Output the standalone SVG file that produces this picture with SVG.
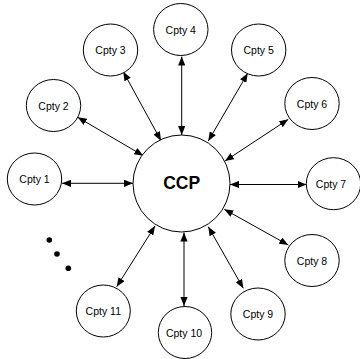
<svg xmlns="http://www.w3.org/2000/svg" width="360" height="359" viewBox="0 0 360 359">
<style>
.n{fill:#fff;stroke:#000;stroke-width:1}
.t{font-family:"Liberation Sans",Arial,sans-serif;font-size:10.5px;fill:#000;text-anchor:middle}
.c{font-family:"Liberation Sans",Arial,sans-serif;font-size:17.5px;font-weight:bold;fill:#000;text-anchor:middle}
.e{stroke:#000;stroke-width:1;fill:none;marker-start:url(#a);marker-end:url(#a)}
</style>
<defs>
<marker id="a" viewBox="0 0 10 8" refX="10" refY="4" markerWidth="9" markerHeight="7.2" markerUnits="userSpaceOnUse" orient="auto-start-reverse">
<path d="M0,0 L10,4 L0,8 Z" fill="#000"/>
</marker>
</defs>
<rect width="360" height="359" fill="#fff"/>
<g id="connectors">
<line class="e" x1="62" y1="183.3" x2="133" y2="183.3"/>
<line class="e" x1="77.7" y1="117.3" x2="143.3" y2="155.7"/>
<line class="e" x1="123.3" y1="71.7" x2="161" y2="140.7"/>
<line class="e" x1="181.7" y1="56.5" x2="181.7" y2="135"/>
<line class="e" x1="247.7" y1="73.3" x2="208.3" y2="141"/>
<line class="e" x1="288.3" y1="119.3" x2="225" y2="161"/>
<line class="e" x1="230" y1="184.5" x2="306.5" y2="184.5"/>
<line class="e" x1="224.3" y1="209.3" x2="288.3" y2="245"/>
<line class="e" x1="208.3" y1="226.7" x2="243.3" y2="288.3"/>
<line class="e" x1="184" y1="232.5" x2="184" y2="306"/>
<line class="e" x1="155" y1="226" x2="116.7" y2="286.7"/>
</g>
<g id="ccp"><circle class="n" cx="181.5" cy="183.5" r="48.5"/><text class="c" x="181.7" y="189.3">CCP</text></g>
<g id="cpty1"><ellipse class="n" cx="34.5" cy="179" rx="27.2" ry="26"/><text class="t" x="34.5" y="183">Cpty 1</text></g>
<g id="cpty2"><ellipse class="n" cx="53.5" cy="105.5" rx="27.2" ry="26"/><text class="t" x="53.5" y="109.5">Cpty 2</text></g>
<g id="cpty3"><ellipse class="n" cx="110.5" cy="50" rx="27.2" ry="26"/><text class="t" x="110.5" y="54">Cpty 3</text></g>
<g id="cpty4"><ellipse class="n" cx="180.8" cy="29.5" rx="27.2" ry="26"/><text class="t" x="180.8" y="33.5">Cpty 4</text></g>
<g id="cpty5"><ellipse class="n" cx="258.7" cy="50" rx="27.2" ry="26"/><text class="t" x="258.7" y="54">Cpty 5</text></g>
<g id="cpty6"><ellipse class="n" cx="312" cy="103.5" rx="27.2" ry="26"/><text class="t" x="312" y="107.5">Cpty 6</text></g>
<g id="cpty7"><ellipse class="n" cx="333.5" cy="183.7" rx="27.2" ry="26"/><text class="t" x="331" y="187.7">Cpty 7</text></g>
<g id="cpty8"><ellipse class="n" cx="312" cy="260.5" rx="27.2" ry="26"/><text class="t" x="312" y="264.5">Cpty 8</text></g>
<g id="cpty9"><ellipse class="n" cx="258" cy="314" rx="27.2" ry="26"/><text class="t" x="258" y="318">Cpty 9</text></g>
<g id="cpty10"><ellipse class="n" cx="185" cy="332.5" rx="26.7" ry="26"/><text class="t" x="184" y="336.5">Cpty 10</text></g>
<g id="cpty11"><ellipse class="n" cx="103.3" cy="311" rx="27" ry="26"/><text class="t" x="103.3" y="315">Cpty 11</text></g>
<g id="dots" fill="#000"><circle cx="49.3" cy="240" r="2.8"/><circle cx="57" cy="254" r="2.8"/><circle cx="68.3" cy="268.3" r="2.8"/></g>
</svg>
